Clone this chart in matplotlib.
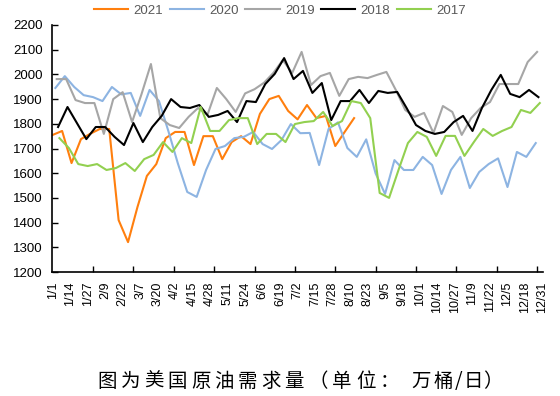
import numpy as np
import matplotlib
matplotlib.use('Agg')
import matplotlib.pyplot as plt

# Données hebdomadaires (demande de pétrole US, 10k barils/jour) #########
v2021 = [1755, 1771, 1641, 1738, 1760, 1779, 1779, 1410, 1321, 1463, 1589,
         1637, 1742, 1767, 1767, 1633, 1750, 1750, 1657, 1726, 1750, 1718,
         1840, 1900, 1913, 1852, 1818, 1876, 1823, 1832, 1710, 1767, 1823]
v2020 = [1945, 1993, 1949, 1916, 1908, 1892, 1949, 1919, 1925, 1832, 1937,
         1892, 1770, 1640, 1524, 1504, 1613, 1698, 1710, 1742, 1747, 1767,
         1718, 1698, 1734, 1799, 1762, 1763, 1633, 1779, 1806, 1702, 1666,
         1737, 1599, 1516, 1653, 1613, 1613, 1666, 1633, 1516, 1613, 1666,
         1540, 1605, 1637, 1660, 1544, 1686, 1666, 1722]
v2019 = [1981, 1981, 1896, 1884, 1884, 1759, 1900, 1928, 1807, 1920, 2042,
         1823, 1795, 1783, 1828, 1864, 1836, 1945, 1900, 1848, 1923, 1940,
         1966, 2006, 2058, 2006, 2091, 1957, 1993, 2006, 1913, 1981, 1990,
         1985, 1998, 2010, 1937, 1856, 1828, 1844, 1763, 1872, 1848, 1755,
         1823, 1864, 1888, 1961, 1961, 1961, 2050, 2091]
v2018 = [1787, 1868, 1803, 1738, 1787, 1787, 1747, 1714, 1803, 1726, 1787,
         1832, 1900, 1868, 1864, 1876, 1828, 1836, 1852, 1807, 1892, 1888,
         1961, 2002, 2066, 1981, 2014, 1925, 1965, 1815, 1892, 1892, 1937,
         1884, 1933, 1925, 1929, 1864, 1795, 1771, 1759, 1767, 1807, 1832,
         1771, 1864, 1937, 1998, 1921, 1908, 1937, 1908]
v2017 = [1742, 1702, 1637, 1629, 1637, 1613, 1621, 1641, 1609, 1657, 1674,
         1726, 1686, 1742, 1722, 1868, 1771, 1771, 1815, 1823, 1823, 1718,
         1759, 1759, 1726, 1799, 1807, 1811, 1848, 1791, 1811, 1892, 1884,
         1823, 1520, 1500, 1613, 1722, 1767, 1747, 1670, 1751, 1751, 1670,
         1726, 1779, 1751, 1771, 1787, 1856, 1844, 1884]

# premier vendredi de chaque année (jour de l'année, 0 = 1/1)
start_days = {'2021': 0, '2020': 2, '2019': 3, '2018': 4, '2017': 5}

x_labels = ['1/1', '1/14', '1/27', '2/9', '2/22', '3/7', '3/20', '4/2',
            '4/15', '4/28', '5/11', '5/24', '6/6', '6/19', '7/2', '7/15',
            '7/28', '8/10', '8/23', '9/5', '9/18', '10/1', '10/14', '10/27',
            '11/9', '11/22', '12/5', '12/18', '12/31']
y_ticks = list(range(1200, 2201, 100))

caption = '图为美国原油需求量（单位：万桶/日）'
# centre (px) de chaque caractère de la légende du bas, espacement large
caption_x = [107.5, 130.8, 154, 177.5, 201, 224, 247.5, 271, 294,
             318, 342, 366, 389, 421, 443, 459, 473, 493]

series = [('2021', v2021, '#FF7F0E'),
          ('2020', v2020, '#8DB4E2'),
          ('2019', v2019, '#A6A6A6'),
          ('2018', v2018, '#000000'),
          ('2017', v2017, '#92D050')]

# Figure ################################################################
plt.rcParams['font.family'] = ['Liberation Sans', 'DejaVu Sans']

fig = plt.figure(figsize=(5.6, 3.96), dpi=100)
ax = fig.add_axes([0.0929, 0.3131, 0.877, 0.6238])

for name, vals, color in series:
    days = start_days[name] + 7 * np.arange(len(vals))
    ax.plot(days, vals, color=color, lw=1.5, label=name)

ax.set_xlim(-0.5, 364.5)
ax.set_ylim(1200, 2200)

label_pos = [13 * i for i in range(len(x_labels))]
ax.set_xticks(label_pos)
ax.set_xticklabels(x_labels, rotation=90, fontsize=9)
ax.tick_params(axis='x', which='major', length=0, pad=7)
ax.set_xticks(range(30, 365, 30), minor=True)
ax.tick_params(axis='x', which='minor', direction='in', length=4.2, width=1)

ax.set_yticks(y_ticks)
ax.set_yticklabels([str(v) for v in y_ticks], fontsize=9.5)
ax.tick_params(axis='y', direction='in', length=4.2, width=1, pad=6.5)

for side in ['top', 'right']:
    ax.spines[side].set_visible(False)
for side in ['left', 'bottom']:
    ax.spines[side].set_linewidth(1.2)

leg = ax.legend(loc='center', bbox_to_anchor=(280 / 560, 1 - 11 / 396),
                bbox_transform=fig.transFigure, ncol=5, frameon=False,
                fontsize=9.5, handlelength=2.6, handletextpad=0.4,
                columnspacing=0.5)
for t in leg.get_texts():
    t.set_color('#595959')

# légende du bas, caractère par caractère (espacement entre lettres)
for ch, xc in zip(caption, caption_x):
    fig.text(xc / 560, 1 - 387 / 396, ch, ha='center', va='baseline',
             fontsize=14, fontweight='light',
             family=['Noto Sans CJK SC', 'DejaVu Sans'])

fig.savefig('out.png', dpi=100)
